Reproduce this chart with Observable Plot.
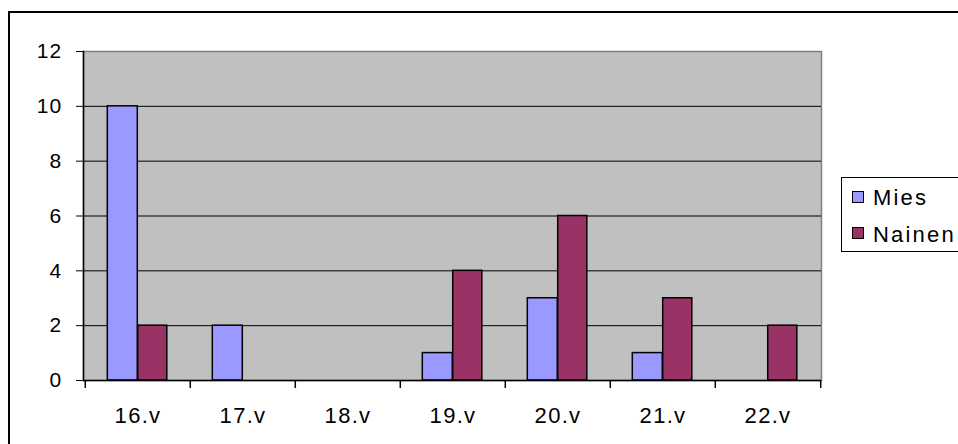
<!DOCTYPE html>
<html>
<head>
<meta charset="utf-8">
<script src="https://cdn.jsdelivr.net/npm/d3@7"></script>
<script src="https://cdn.jsdelivr.net/npm/@observablehq/plot@0.6"></script>
<style>
  html, body { margin: 0; padding: 0; background: #fff; }
  body { width: 958px; height: 444px; overflow: hidden; position: relative; font-family: "Liberation Sans", Arial, sans-serif; }
  #outer { position: absolute; left: 8px; top: 11px; width: 1000px; height: 500px; border: 2px solid #000; box-sizing: border-box; }
  #chart { position: absolute; left: 0; top: 0; }
  #chart svg text { letter-spacing: 1.2px; }
  #chart svg g[aria-label="x-axis tick label"] text { font-size: 22px; letter-spacing: 1.3px; }
  #legend { position: absolute; left: 841px; top: 177px; width: 130px; height: 75px; border: 1px solid #000; box-sizing: border-box; background: #fff; }
  .sw { position: absolute; width: 12px; height: 12px; border: 1px solid #000; box-sizing: border-box; }
  .lbl { position: absolute; font-size: 22px; line-height: 22px; letter-spacing: 2.2px; color: #000; white-space: nowrap; }
</style>
</head>
<body>
<div id="outer"></div>
<div id="chart"></div>
<div id="legend"></div>
<script>
const categories = ["16.v", "17.v", "18.v", "19.v", "20.v", "21.v", "22.v"];
const mies = [10, 2, 0, 1, 3, 1, 0];
const nainen = [2, 0, 0, 4, 6, 3, 2];
const yTicks = [0, 2, 4, 6, 8, 10, 12];
const seriesNames = ["Mies", "Nainen"];
const seriesColors = ["#9999ff", "#993366"];

const miesData = categories.map((c, i) => ({cat: c, v: mies[i]})).filter(d => d.v > 0);
const nainenData = categories.map((c, i) => ({cat: c, v: nainen[i]})).filter(d => d.v > 0);

const W = 958, H = 444, mL = 83, mR = 137, mT = 51, mB = 64;
const bw = (W - mL - mR) / categories.length;

const chart = Plot.plot({
  width: W, height: H,
  marginLeft: mL, marginRight: mR, marginTop: mT, marginBottom: mB,
  style: {fontFamily: "'Liberation Sans', Arial, sans-serif", fontSize: "21px", background: "transparent", color: "#000", overflow: "visible"},
  x: {domain: categories, padding: 0, tickSize: 0, tickPadding: 27, label: null},
  y: {domain: [0, 12], ticks: yTicks, tickSize: 7, tickPadding: 14, label: null},
  marks: [
    Plot.frame({fill: "#c0c0c0", stroke: "#808080", strokeWidth: 1.5}),
    Plot.ruleY(yTicks.filter(t => t > 0 && t < 12), {stroke: "#000", strokeWidth: 1}),
    Plot.barY(miesData, {x: "cat", y: "v", fill: seriesColors[0], stroke: "#000", strokeWidth: 1.5, insetLeft: 22.3, insetRight: 52.7}),
    Plot.barY(nainenData, {x: "cat", y: "v", fill: seriesColors[1], stroke: "#000", strokeWidth: 1.5, insetLeft: 52.7, insetRight: 23.2}),
    Plot.ruleY([0], {stroke: "#000", strokeWidth: 1.5}),
    Plot.frame({anchor: "left", stroke: "#000", strokeWidth: 1.5}),
    Plot.ruleX(categories, {x: d => d, y1: 0, insetBottom: -8, dx: -bw / 2, stroke: "#000", strokeWidth: 1.5}),
    Plot.ruleX(categories.slice(-1), {x: d => d, y1: 0, insetBottom: -8, dx: bw / 2, stroke: "#000", strokeWidth: 1.5})
  ]
});
document.getElementById("chart").appendChild(chart);

const legend = document.getElementById("legend");
const swTops = [191, 227];
const lblTops = [187, 224];
seriesNames.forEach((name, i) => {
  const sw = document.createElement("div");
  sw.className = "sw";
  sw.style.left = (852 - 841 - 1) + "px";
  sw.style.top = (swTops[i] - 177 - 1) + "px";
  sw.style.background = seriesColors[i];
  legend.appendChild(sw);
  const lb = document.createElement("div");
  lb.className = "lbl";
  lb.style.left = (873 - 841 - 1) + "px";
  lb.style.top = (lblTops[i] - 177 - 1) + "px";
  lb.textContent = name;
  legend.appendChild(lb);
});
</script>
</body>
</html>
